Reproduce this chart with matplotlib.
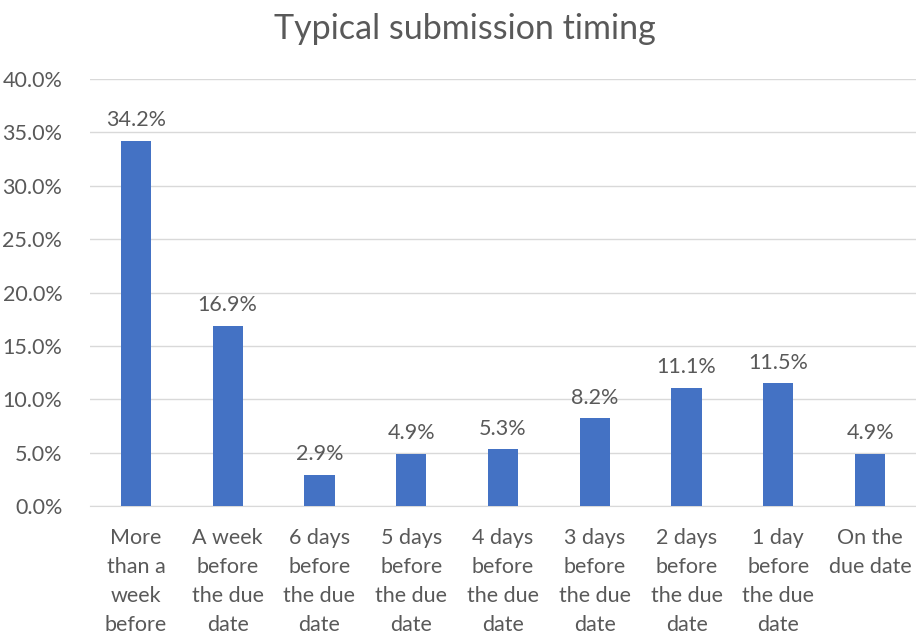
import numpy as np
import matplotlib
matplotlib.use('Agg')
import matplotlib.pyplot as plt
from matplotlib.ticker import PercentFormatter

categories = ['More\nthan a\nweek\nbefore', 'A week\nbefore\nthe due\ndate',
              '6 days\nbefore\nthe due\ndate', '5 days\nbefore\nthe due\ndate',
              '4 days\nbefore\nthe due\ndate', '3 days\nbefore\nthe due\ndate',
              '2 days\nbefore\nthe due\ndate', '1 day\nbefore\nthe due\ndate',
              'On the\ndue date']
shares = [34.2, 16.9, 2.9, 4.9, 5.3, 8.2, 11.1, 11.5, 4.9]

grey = '#595959'
plt.rcParams['font.family'] = ['Lato', 'DejaVu Sans']

fig = plt.figure(figsize=(9.16, 6.35), dpi=100)
ax = fig.add_axes([0.0983, 0.2031, 0.9017, 0.6725])

x = np.arange(len(categories))
bars = ax.bar(x, shares, width=0.33, color='#4472C4', zorder=3)
for b, v in zip(bars, shares):
    ax.text(b.get_x() + b.get_width() / 2, v + 1.0, f'{v:.1f}%',
            ha='center', va='bottom', fontsize=15.5, color=grey)

ax.set_xlim(-0.5, len(categories) - 0.5)
ax.set_ylim(0, 40)
ax.set_yticks(np.arange(0, 41, 5))
ax.yaxis.set_major_formatter(PercentFormatter(decimals=1))
ax.set_xticks(x)
ax.set_xticklabels(categories, linespacing=1.55)
ax.tick_params(axis='both', length=0, labelsize=15.5, labelcolor=grey)
ax.tick_params(axis='x', pad=16)
ax.tick_params(axis='y', pad=20)
ax.grid(axis='y', color='#D9D9D9', linewidth=1, zorder=0)
for s in ['top', 'right', 'left']:
    ax.spines[s].set_visible(False)
ax.spines['bottom'].set_color('#D9D9D9')

fig.text(0.508, 0.955, 'Typical submission timing', ha='center', va='center',
         fontsize=24.5, color=grey)

fig.savefig('out.png', dpi=100)
